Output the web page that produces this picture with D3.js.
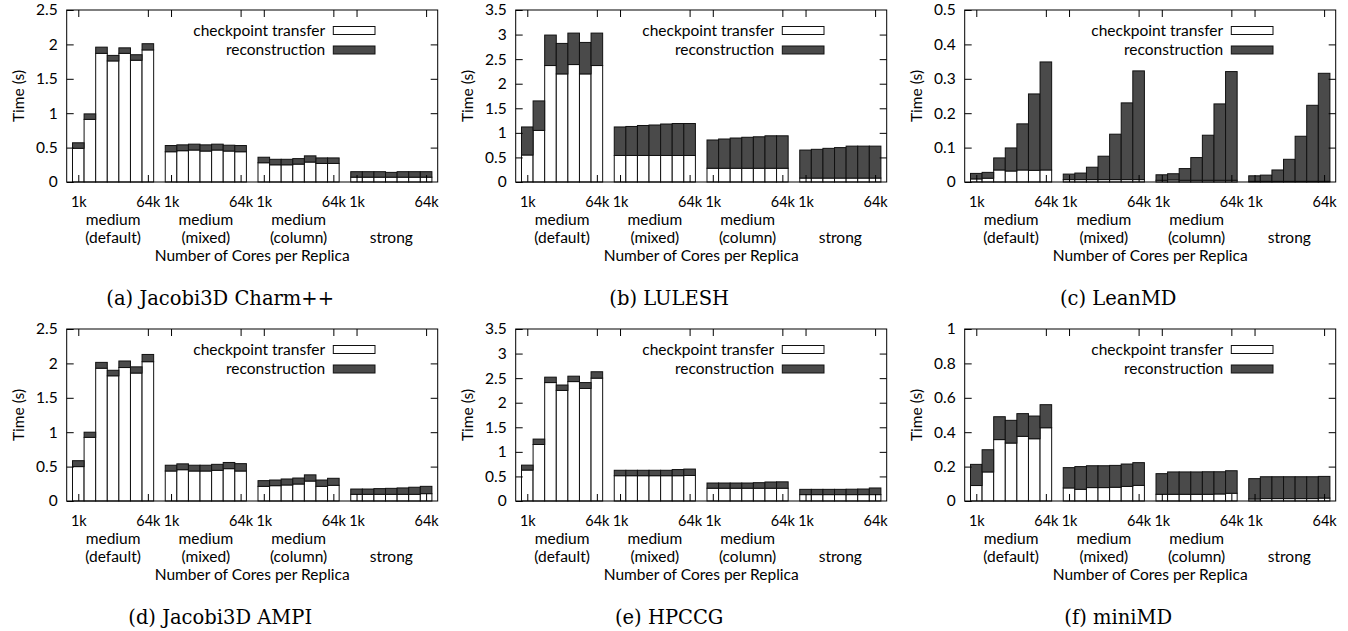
<!DOCTYPE html>
<html>
<head>
<meta charset="utf-8">
<script src="https://cdn.jsdelivr.net/npm/d3@7"></script>
<style>
  body { margin: 0; background: #fff; }
  svg text { font-family: Lato, "Open Sans", sans-serif; fill: #000; }
  .caption { font-family: "DejaVu Serif", serif !important; }
</style>
</head>
<body>
<svg id="chart" width="1348" height="631"></svg>
<script>
// Data
const cores = ['1k', '2k', '4k', '8k', '16k', '32k', '64k'];
const groups = [['medium', '(default)'], ['medium', '(mixed)'], ['medium', '(column)'], ['', 'strong']];
const seriesNames = ['checkpoint transfer', 'reconstruction'];

const yTicksJacobi = [0, 0.5, 1, 1.5, 2, 2.5];
const yTicksLulesh = [0, 0.5, 1, 1.5, 2, 2.5, 3, 3.5];
const yTicksLeanmd = [0, 0.1, 0.2, 0.3, 0.4, 0.5];
const yTicksMinimd = [0, 0.2, 0.4, 0.6, 0.8, 1];

// each array: 4 groups x 7 core counts
const jacobiCharmTransfer = [0.49, 0.91, 1.87, 1.76, 1.87, 1.77, 1.92,
  0.44, 0.455, 0.465, 0.45, 0.465, 0.45, 0.44,
  0.28, 0.25, 0.25, 0.26, 0.29, 0.27, 0.27,
  0.07, 0.07, 0.07, 0.07, 0.07, 0.07, 0.07];
const jacobiCharmRecon = [0.08, 0.08, 0.09, 0.08, 0.08, 0.08, 0.09,
  0.09, 0.085, 0.085, 0.09, 0.085, 0.085, 0.09,
  0.08, 0.08, 0.08, 0.08, 0.09, 0.08, 0.08,
  0.08, 0.08, 0.08, 0.07, 0.08, 0.08, 0.08];

const luleshTransfer = [0.55, 1.05, 2.37, 2.2, 2.39, 2.2, 2.37,
  0.54, 0.54, 0.54, 0.54, 0.54, 0.54, 0.54,
  0.28, 0.28, 0.28, 0.28, 0.28, 0.28, 0.28,
  0.08, 0.08, 0.08, 0.08, 0.08, 0.08, 0.08];
const luleshRecon = [0.57, 0.6, 0.62, 0.62, 0.64, 0.64, 0.66,
  0.58, 0.59, 0.61, 0.62, 0.64, 0.65, 0.65,
  0.575, 0.595, 0.615, 0.63, 0.64, 0.66, 0.66,
  0.57, 0.585, 0.605, 0.62, 0.65, 0.65, 0.65];

const leanmdTransfer = [0.009, 0.011, 0.035, 0.032, 0.035, 0.034, 0.035,
  0.007, 0.007, 0.007, 0.007, 0.007, 0.007, 0.007,
  0.005, 0.006, 0.005, 0.005, 0.005, 0.005, 0.005,
  0.002, 0.002, 0.002, 0.002, 0.002, 0.002, 0.002];
const leanmdRecon = [0.016, 0.017, 0.035, 0.067, 0.134, 0.222, 0.314,
  0.016, 0.019, 0.036, 0.068, 0.132, 0.223, 0.316,
  0.016, 0.018, 0.034, 0.066, 0.131, 0.222, 0.316,
  0.016, 0.018, 0.033, 0.064, 0.131, 0.221, 0.314];

const jacobiAmpiTransfer = [0.5, 0.925, 1.93, 1.82, 1.94, 1.86, 2.025,
  0.436, 0.455, 0.436, 0.436, 0.446, 0.47, 0.436,
  0.213, 0.223, 0.233, 0.247, 0.29, 0.213, 0.228,
  0.097, 0.097, 0.097, 0.097, 0.097, 0.097, 0.107];
const jacobiAmpiRecon = [0.086, 0.075, 0.085, 0.08, 0.095, 0.09, 0.105,
  0.084, 0.085, 0.084, 0.084, 0.087, 0.09, 0.107,
  0.083, 0.082, 0.087, 0.087, 0.09, 0.092, 0.102,
  0.077, 0.077, 0.083, 0.087, 0.093, 0.103, 0.106];

const hpccgTransfer = [0.63, 1.15, 2.41, 2.25, 2.43, 2.29, 2.5,
  0.515, 0.515, 0.515, 0.515, 0.515, 0.515, 0.52,
  0.26, 0.26, 0.26, 0.26, 0.26, 0.26, 0.26,
  0.13, 0.13, 0.13, 0.13, 0.13, 0.13, 0.13];
const hpccgRecon = [0.1, 0.11, 0.11, 0.11, 0.11, 0.12, 0.13,
  0.11, 0.11, 0.11, 0.11, 0.11, 0.125, 0.13,
  0.106, 0.106, 0.106, 0.106, 0.113, 0.127, 0.13,
  0.107, 0.107, 0.107, 0.107, 0.11, 0.114, 0.135];

const minimdTransfer = [0.09, 0.169, 0.357, 0.337, 0.376, 0.362, 0.426,
  0.076, 0.068, 0.078, 0.078, 0.08, 0.085, 0.091,
  0.039, 0.039, 0.039, 0.039, 0.039, 0.041, 0.045,
  0.012, 0.014, 0.014, 0.014, 0.014, 0.014, 0.017];
const minimdRecon = [0.123, 0.129, 0.133, 0.132, 0.132, 0.132, 0.134,
  0.118, 0.132, 0.127, 0.127, 0.127, 0.13, 0.132,
  0.12, 0.13, 0.13, 0.13, 0.131, 0.129, 0.131,
  0.118, 0.127, 0.127, 0.127, 0.127, 0.127, 0.126];

const panels = [
  { caption: '(a) Jacobi3D Charm++', transfer: jacobiCharmTransfer, recon: jacobiCharmRecon, yMax: 2.5, ticks: yTicksJacobi },
  { caption: '(b) LULESH', transfer: luleshTransfer, recon: luleshRecon, yMax: 3.5, ticks: yTicksLulesh },
  { caption: '(c) LeanMD', transfer: leanmdTransfer, recon: leanmdRecon, yMax: 0.5, ticks: yTicksLeanmd },
  { caption: '(d) Jacobi3D AMPI', transfer: jacobiAmpiTransfer, recon: jacobiAmpiRecon, yMax: 2.5, ticks: yTicksJacobi },
  { caption: '(e) HPCCG', transfer: hpccgTransfer, recon: hpccgRecon, yMax: 3.5, ticks: yTicksLulesh },
  { caption: '(f) miniMD', transfer: minimdTransfer, recon: minimdRecon, yMax: 1, ticks: yTicksMinimd }
];

const svg = d3.select('#chart');
const W = 371, H = 172;
const fontSize = 15.5;
const tickFont = 14.5;
const darkFill = '#4a4a4a';

panels.forEach((p, k) => {
  const left = 66.7 + (k % 3) * 449;
  const top = 10 + Math.floor(k / 3) * 319;
  const g = svg.append('g').attr('transform', `translate(${left},${top})`);

  const x = d3.scaleLinear().domain([-1, 31]).range([0, W]);
  const y = d3.scaleLinear().domain([0, p.yMax]).range([H, 0]);

  const bars = p.transfer.map((t, i) => ({
    pos: Math.floor(i / 7) * 8 + (i % 7),
    t: t,
    r: p.recon[i]
  }));

  // transfer (white)
  g.selectAll('.tr').data(bars).enter().append('rect')
    .attr('x', d => x(d.pos - 0.5))
    .attr('width', d => x(d.pos + 0.5) - x(d.pos - 0.5))
    .attr('y', d => y(d.t))
    .attr('height', d => y(0) - y(d.t))
    .attr('fill', '#fff').attr('stroke', '#111').attr('stroke-width', 1);

  // reconstruction (dark)
  g.selectAll('.rc').data(bars).enter().append('rect')
    .attr('x', d => x(d.pos - 0.5))
    .attr('width', d => x(d.pos + 0.5) - x(d.pos - 0.5))
    .attr('y', d => y(d.t + d.r))
    .attr('height', d => y(d.t) - y(d.t + d.r))
    .attr('fill', darkFill).attr('stroke', '#111').attr('stroke-width', 1);

  // Axes
  const yFmt = d => String(d);
  const yl = g.append('g').call(d3.axisLeft(y).tickValues(p.ticks).tickSize(-7).tickPadding(9).tickFormat(yFmt));
  const yr = g.append('g').attr('transform', `translate(${W},0)`)
    .call(d3.axisRight(y).tickValues(p.ticks.slice(1, -1)).tickSize(-7).tickFormat(''));

  const xTickPos = [0, 6, 8, 14, 16, 22, 24, 30];
  const xb = g.append('g').attr('transform', `translate(0,${H})`)
    .call(d3.axisBottom(x).tickValues(xTickPos).tickSize(-7).tickPadding(15)
      .tickFormat((d, i) => i % 2 === 0 ? cores[0] : cores[6]));
  const xt = g.append('g')
    .call(d3.axisTop(x).tickValues(xTickPos).tickSize(-7).tickFormat(''));

  [yl, yr, xb, xt].forEach(a => {
    a.select('.domain').remove();
    a.selectAll('line').attr('stroke', '#000');
    a.selectAll('text').style('font-size', fontSize + 'px').style('font-family', 'Lato');
  });
  xb.selectAll('text').style('font-size', tickFont + 'px');

  // frame
  g.append('rect').attr('width', W).attr('height', H)
    .attr('fill', 'none').attr('stroke', '#000').attr('stroke-width', 1);

  // group labels
  groups.forEach((lines, gi) => {
    lines.forEach((txt, li) => {
      g.append('text')
        .attr('x', x(gi * 8 + 3))
        .attr('y', H + 43 + li * 18)
        .attr('text-anchor', 'middle')
        .style('font-size', fontSize + 'px')
        .text(txt);
    });
  });

  // axis labels
  g.append('text')
    .attr('x', W / 2).attr('y', H + 79)
    .attr('text-anchor', 'middle')
    .style('font-size', fontSize + 'px')
    .text('Number of Cores per Replica');

  g.append('text')
    .attr('transform', 'rotate(-90)')
    .attr('x', -H / 2).attr('y', -43)
    .attr('text-anchor', 'middle')
    .style('font-size', fontSize + 'px')
    .text('Time (s)');

  // legend
  seriesNames.forEach((name, si) => {
    const cy = 20.5 + si * 19.5;
    g.append('text')
      .attr('x', W - 112.5).attr('y', cy)
      .attr('dy', '0.35em')
      .attr('text-anchor', 'end')
      .style('font-size', fontSize + 'px')
      .text(name);
    g.append('rect')
      .attr('x', W - 104.4).attr('y', cy - 4)
      .attr('width', 41.7).attr('height', 8)
      .attr('fill', si === 0 ? '#fff' : darkFill)
      .attr('stroke', '#111').attr('stroke-width', 1);
  });

  // caption
  g.append('text')
    .attr('class', 'caption')
    .attr('x', 153.5).attr('y', H + 123)
    .attr('text-anchor', 'middle')
    .style('font-size', '19.5px')
    .text(p.caption);
});
</script>
</body>
</html>
